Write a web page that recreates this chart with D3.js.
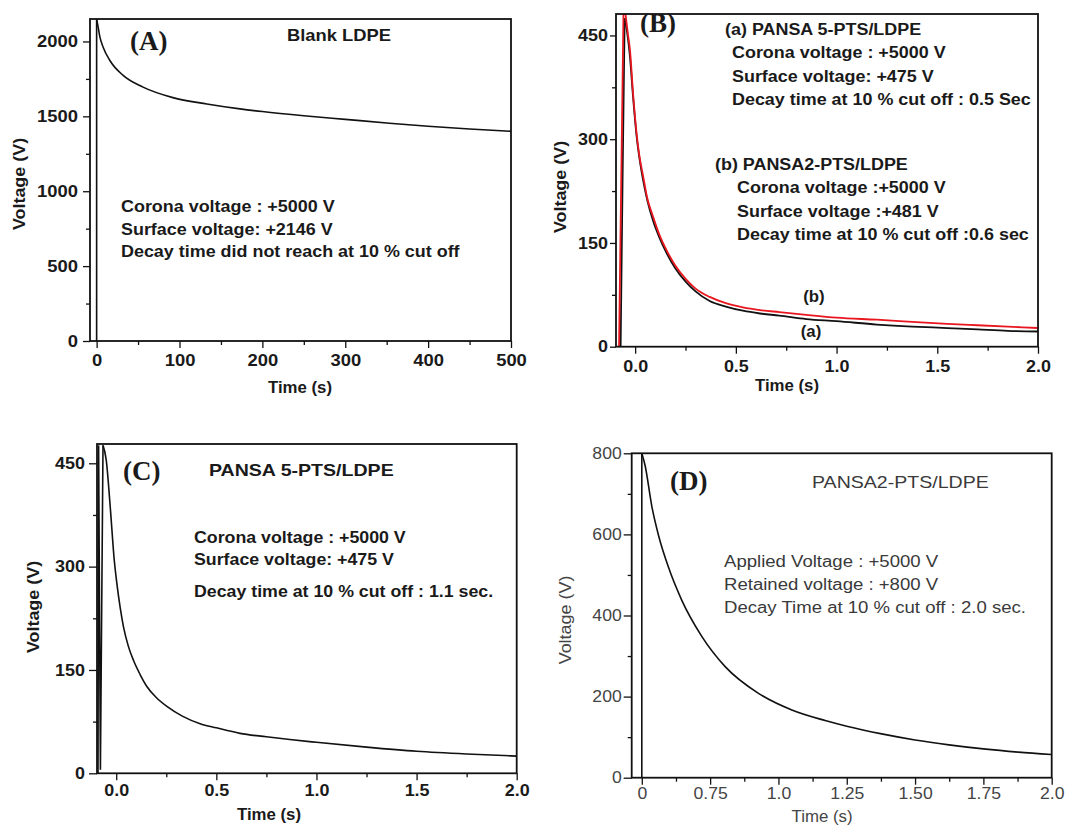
<html>
<head>
<script src="https://d3js.org/d3.v7.min.js"></script>
<style>
body { margin: 0; background: #fff; }
svg { display: block; }
text { font-family: "Liberation Sans", Arial, sans-serif; fill: #1a1a1a; }
text.letter { font-family: "Liberation Serif", "Times New Roman", serif; font-weight: bold; font-size: 27px; }
.tick line { stroke: #111; stroke-width: 1.3; }
</style>
</head>
<body>
<div id="plot"></div>

<script>
// ---- data ----
// (A) Blank LDPE
var timeA = [0, 0, 2, 4, 8, 16, 32, 56, 92, 133, 173, 200, 250, 300, 350, 400, 450, 500];
var voltA = [0, 2150, 2090, 2029, 1960, 1873, 1773, 1695, 1625, 1583, 1550, 1532, 1504, 1480, 1456, 1434, 1416, 1400];

// (B) curve (a) black, PANSA 5-PTS/LDPE
var timeBa = [-0.072, -0.062, -0.052, -0.04, -0.026, -0.01, 0.007, 0.02, 0.04, 0.06, 0.089, 0.12, 0.155, 0.2, 0.254, 0.3, 0.37, 0.45, 0.535, 0.62, 0.716, 0.85, 1.0, 1.2, 1.376, 1.55, 1.7, 1.85, 2.0];
var voltBa = [0, 250, 475, 455, 420, 360, 305, 275, 240, 212, 182, 158, 136, 113, 93, 80, 66, 58, 52, 48, 45, 40, 37, 32, 29, 27, 25, 23, 22];
// (B) curve (b) red, PANSA2-PTS/LDPE
var timeBb = [-0.08, -0.058, -0.048, -0.035, -0.026, -0.01, 0.007, 0.02, 0.04, 0.06, 0.089, 0.12, 0.155, 0.2, 0.254, 0.3, 0.37, 0.45, 0.535, 0.62, 0.716, 0.85, 1.0, 1.2, 1.376, 1.55, 1.7, 1.85, 2.0];
var voltBb = [0, 481, 481, 450, 430, 365, 309, 278, 246, 215, 188, 162, 140, 117, 97, 84, 72, 63, 57, 53, 50, 46, 42, 39, 36, 33, 31, 29, 27];

// (C) PANSA 5-PTS/LDPE
var timeC = [-0.091, -0.088, -0.079, -0.066, -0.05, -0.03, -0.01, 0.003, 0.02, 0.036, 0.06, 0.086, 0.12, 0.153, 0.2, 0.253, 0.33, 0.419, 0.5, 0.618, 0.75, 0.867, 1.0, 1.25, 1.5, 1.75, 2.0];
var voltC = [0, 476, 5, 476, 455, 387, 310, 276, 240, 213, 185, 164, 143, 126, 110, 97, 83, 72, 66, 58, 53, 49, 45, 38, 32, 28, 25];

// (D) PANSA2-PTS/LDPE
var timeD = [0.5, 0.5, 0.512, 0.537, 0.561, 0.597, 0.646, 0.72, 0.805, 0.927, 1.049, 1.171, 1.25, 1.378, 1.5, 1.624, 1.75, 1.878, 2.0];
var voltD = [0, 800, 770, 668, 598, 520, 438, 348, 274, 208, 167, 141, 127, 108, 93, 81, 71, 63, 57];

// ticks
var xTicksA = [0, 100, 200, 300, 400, 500];
var xMinorA = [50, 150, 250, 350, 450];
var yTicksA = [0, 500, 1000, 1500, 2000];
var yMinorA = [250, 750, 1250, 1750];
var xTicksBC = [0, 0.5, 1, 1.5, 2];
var xMinorBC = [0.25, 0.75, 1.25, 1.75];
var yTicksBC = [0, 150, 300, 450];
var yMinorBC = [75, 225, 375];
var xTicksD = [0.5, 0.75, 1, 1.25, 1.5, 1.75, 2];
var xLabelsD = ["0", "0.75", "1.0", "1.25", "1.50", "1.75", "2.0"];
var xMinorD = [0.625, 0.875, 1.125, 1.375, 1.625, 1.875];
var yTicksD = [0, 200, 400, 600, 800];
var yMinorD = [100, 300, 500, 700];

// texts
var notesA = ["Corona voltage : +5000 V", "Surface voltage: +2146 V", "Decay time did not reach at 10 % cut off"];
var notesBa = ["(a) PANSA 5-PTS/LDPE", "Corona voltage : +5000 V", "Surface voltage: +475 V", "Decay time at 10 % cut off : 0.5 Sec"];
var notesBb = ["(b) PANSA2-PTS/LDPE", "Corona voltage :+5000 V", "Surface voltage :+481 V", "Decay time at 10 % cut off :0.6 sec"];
var notesC = ["Corona voltage : +5000 V", "Surface voltage:  +475 V", "Decay time at 10 % cut off : 1.1 sec."];
var notesD = ["Applied Voltage : +5000 V", "Retained voltage : +800 V", "Decay Time at 10 % cut off : 2.0 sec."];

var width = 1075, height = 830;
var svg = d3.select("#plot").append("svg").attr("width", width).attr("height", height);

function zip(t, v) { return t.map(function (d, i) { return { t: d, v: v[i] }; }); }

// stretch text a bit, the figure is wider than tall
function stretch(sel, k) {
  sel.each(function () {
    var w = this.getComputedTextLength();
    this.setAttribute("textLength", w * k);
    this.setAttribute("lengthAdjust", "spacingAndGlyphs");
  });
}

function drawPanel(p) {
  var g = svg.append("g");
  var x = d3.scaleLinear().domain(p.xDomain).range([p.left, p.right]);
  var y = d3.scaleLinear().domain(p.yDomain).range([p.bottom, p.top]);

  var clipId = "clip" + p.name;
  g.append("clipPath").attr("id", clipId).append("rect")
    .attr("x", p.left).attr("y", p.top)
    .attr("width", p.right - p.left).attr("height", p.bottom - p.top);

  var weight = p.bold ? "bold" : "normal";
  var color = p.bold ? "#1a1a1a" : "#444";

  // minor ticks
  g.append("g").attr("transform", "translate(0," + p.bottom + ")")
    .call(d3.axisBottom(x).tickValues(p.xMinor).tickSize(4).tickFormat(""))
    .call(s => s.select(".domain").remove());
  g.append("g").attr("transform", "translate(" + p.left + ",0)")
    .call(d3.axisLeft(y).tickValues(p.yMinor).tickSize(4).tickFormat(""))
    .call(s => s.select(".domain").remove());

  // major ticks
  var xAxis = d3.axisBottom(x).tickValues(p.xTicks).tickSize(p.xTickSize).tickPadding(p.xPad)
    .tickFormat(p.xFormat);
  g.append("g").attr("transform", "translate(0," + p.bottom + ")")
    .call(xAxis)
    .call(s => s.select(".domain").remove())
    .selectAll("text")
    .style("font-size", p.tickFont + "px").style("font-weight", weight)
    .style("fill", color).style("font-family", "'Liberation Sans', Arial, sans-serif")
    .call(stretch, p.tickK);

  var yAxis = d3.axisLeft(y).tickValues(p.yTicks).tickSize(p.yTickSize).tickPadding(p.yPad)
    .tickFormat(d3.format("d"));
  g.append("g").attr("transform", "translate(" + p.left + ",0)")
    .call(yAxis)
    .call(s => s.select(".domain").remove())
    .selectAll("text")
    .style("font-size", p.tickFont + "px").style("font-weight", weight)
    .style("fill", color).style("font-family", "'Liberation Sans', Arial, sans-serif")
    .call(stretch, p.tickK);

  // curves: the rising spike is straight, the decay is smoothed
  p.series.forEach(function (s) {
    var pts = s.data;
    var spike = pts.slice(0, s.spike + 1);
    var decay = pts.slice(s.spike);
    var cg = g.append("g").attr("clip-path", "url(#" + clipId + ")");
    cg.append("path").datum(spike)
      .attr("d", d3.line().x(d => x(d.t)).y(d => y(d.v)))
      .attr("fill", "none").attr("stroke", s.color).attr("stroke-width", s.w);
    cg.append("path").datum(decay)
      .attr("d", d3.line().x(d => x(d.t)).y(d => y(d.v)).curve(d3.curveMonotoneX))
      .attr("fill", "none").attr("stroke", s.color).attr("stroke-width", s.w);
  });

  // frame
  g.append("rect")
    .attr("x", p.left).attr("y", p.top)
    .attr("width", p.right - p.left).attr("height", p.bottom - p.top)
    .attr("fill", "none").attr("stroke", "#111").attr("stroke-width", 1.8);

  // axis titles
  g.append("text")
    .attr("x", (p.xTitle[0])).attr("y", p.xTitle[1])
    .attr("text-anchor", "middle")
    .style("font-size", "16px").style("font-weight", weight).style("fill", color)
    .text("Time (s)").call(stretch, 1.05);
  g.append("text")
    .attr("transform", "translate(" + p.yTitle[0] + "," + p.yTitle[1] + ") rotate(-90)")
    .attr("text-anchor", "middle")
    .style("font-size", "16px").style("font-weight", weight).style("fill", color)
    .text("Voltage (V)").call(stretch, 1.12);

  // panel letter
  g.append("text").attr("class", "letter")
    .attr("x", p.letter[0]).attr("y", p.letter[1])
    .text("(" + p.name + ")");

  // annotations
  p.notes.forEach(function (n) {
    g.append("text")
      .attr("x", n.x).attr("y", n.y)
      .attr("text-anchor", n.anchor || "start")
      .style("font-size", (n.size || 16) + "px")
      .style("font-weight", weight)
      .style("fill", p.bold ? "#1a1a1a" : "#3a3a3a")
      .text(n.text)
      .call(stretch, n.k || p.k);
  });
}

var fmt1 = d3.format(".1f");

drawPanel({
  name: "A", left: 90, right: 511, top: 19, bottom: 341,
  xDomain: [-8, 500], yDomain: [0, 2150],
  xTicks: xTicksA, xMinor: xMinorA, yTicks: yTicksA, yMinor: yMinorA,
  xFormat: d3.format("d"),
  xTickSize: 7, xPad: 7, yTickSize: 7, yPad: 5, tickFont: 16, tickK: 1.15, bold: true, k: 1.12,
  xTitle: [300, 393], yTitle: [25, 184], letter: [130, 50],
  series: [{ data: zip(timeA, voltA), spike: 1, color: "#111", w: 1.6 }],
  notes: [
    { text: "Blank LDPE", x: 287, y: 41, size: 17, k: 1.08 },
    { text: notesA[0], x: 121, y: 212 },
    { text: notesA[1], x: 121, y: 235 },
    { text: notesA[2], x: 121, y: 257 }
  ]
});

drawPanel({
  name: "B", left: 616, right: 1038, top: 14, bottom: 346.7,
  xDomain: [-0.095, 2.0], yDomain: [0, 481],
  xTicks: xTicksBC, xMinor: xMinorBC, yTicks: yTicksBC, yMinor: yMinorBC,
  xFormat: fmt1,
  xTickSize: 7, xPad: 7, yTickSize: 6, yPad: 2, tickFont: 16, tickK: 1.12, bold: true, k: 1.12,
  xTitle: [787, 391], yTitle: [566, 187], letter: [640, 32],
  series: [
    { data: zip(timeBa, voltBa), spike: 2, color: "#111", w: 1.8 },
    { data: zip(timeBb, voltBb), spike: 2, color: "#e8161e", w: 1.8 }
  ],
  notes: [
    { text: notesBa[0], x: 725, y: 35 },
    { text: notesBa[1], x: 732, y: 58 },
    { text: notesBa[2], x: 732, y: 82 },
    { text: notesBa[3], x: 732, y: 105 },
    { text: notesBb[0], x: 715, y: 170 },
    { text: notesBb[1], x: 737, y: 193 },
    { text: notesBb[2], x: 737, y: 217 },
    { text: notesBb[3], x: 737, y: 240 },
    { text: "(b)", x: 814, y: 302, anchor: "middle", k: 1.05 },
    { text: "(a)", x: 811, y: 337, anchor: "middle", k: 1.05 }
  ]
});

drawPanel({
  name: "C", left: 97, right: 516.7, top: 444, bottom: 773.3,
  xDomain: [-0.096, 2.0], yDomain: [0, 478],
  xTicks: xTicksBC, xMinor: xMinorBC, yTicks: yTicksBC, yMinor: yMinorBC,
  xFormat: fmt1,
  xTickSize: 7, xPad: 4, yTickSize: 8, yPad: 4, tickFont: 16, tickK: 1.12, bold: true, k: 1.11,
  xTitle: [269, 820], yTitle: [39, 607], letter: [123, 480],
  series: [{ data: zip(timeC, voltC), spike: 3, color: "#111", w: 1.6 }],
  notes: [
    { text: "PANSA 5-PTS/LDPE", x: 209, y: 476, size: 17, k: 1.15 },
    { text: notesC[0], x: 194, y: 543 },
    { text: notesC[1], x: 194, y: 565 },
    { text: notesC[2], x: 194, y: 597 }
  ]
});

drawPanel({
  name: "D", left: 631.7, right: 1051.7, top: 453.3, bottom: 777.7,
  xDomain: [0.463, 2.0], yDomain: [0, 800],
  xTicks: xTicksD, xMinor: xMinorD, yTicks: yTicksD, yMinor: yMinorD,
  xFormat: (d, i) => xLabelsD[i],
  xTickSize: 7, xPad: 3, yTickSize: 8, yPad: 2, tickFont: 16, tickK: 1.1, bold: false, k: 1.16,
  xTitle: [822, 822], yTitle: [571, 620], letter: [670, 490],
  series: [{ data: zip(timeD, voltD), spike: 1, color: "#111", w: 1.6 }],
  notes: [
    { text: "PANSA2-PTS/LDPE", x: 812, y: 488, size: 17, k: 1.15 },
    { text: notesD[0], x: 724, y: 567 },
    { text: notesD[1], x: 724, y: 590 },
    { text: notesD[2], x: 724, y: 613 }
  ]
});
</script>
</body>
</html>
